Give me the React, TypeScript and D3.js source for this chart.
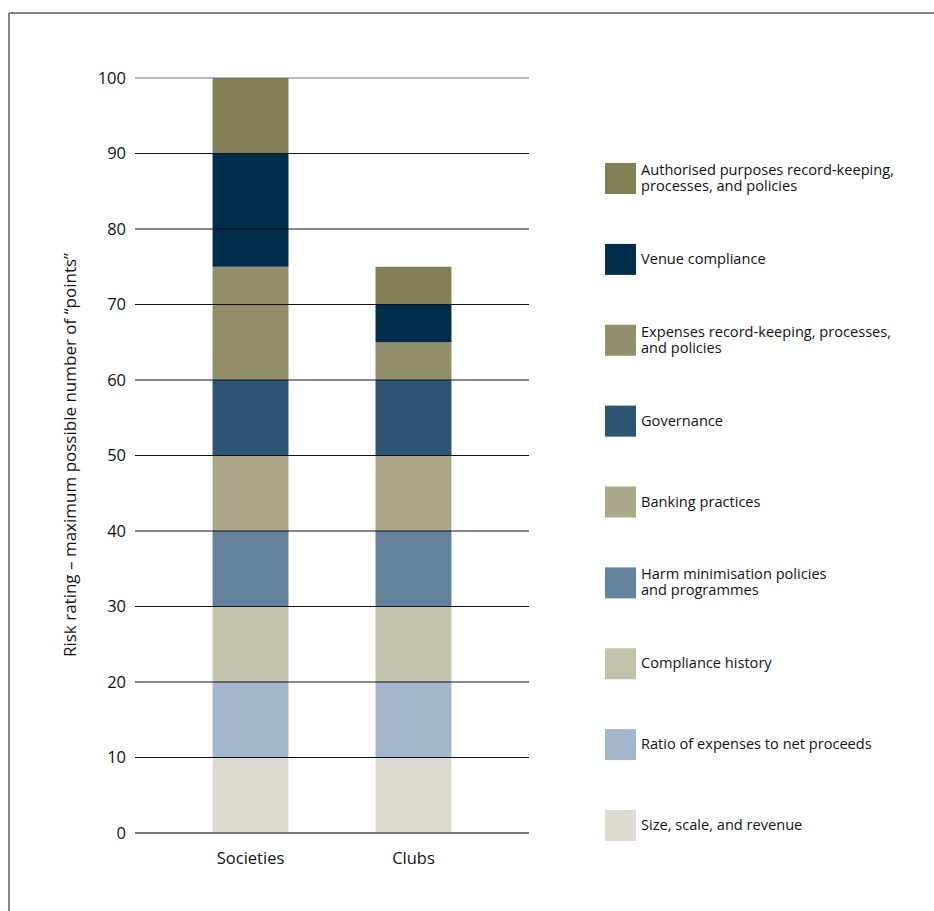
import React from "react";
import * as d3 from "d3";

const categories = ["Societies", "Clubs"];
const seriesNames = [
  "Size, scale, and revenue",
  "Ratio of expenses to net proceeds",
  "Compliance history",
  "Harm minimisation policies|and programmes",
  "Banking practices",
  "Governance",
  "Expenses record-keeping, processes,|and policies",
  "Venue compliance",
  "Authorised purposes record-keeping,|processes, and policies",
];
const societiesValues = [10, 10, 10, 10, 10, 10, 15, 15, 10];
const clubsValues = [10, 10, 10, 10, 10, 10, 5, 5, 5];
const seriesColors = [
  "#dddbd0", "#a4b6cb", "#c2c1aa", "#65829d", "#aba889",
  "#2b5573", "#938f6b", "#002d4a", "#7f7e55",
];
const yTicks = [0, 10, 20, 30, 40, 50, 60, 70, 80, 90, 100];
const yLabel = "Risk rating – maximum possible number of “points”";

export default function App() {
  const W = 934, H = 911;
  const y = d3.scaleLinear().domain([0, 100]).range([833, 78]);
  const x = d3.scaleBand().domain(categories).range([135, 529]).paddingInner(0.534).paddingOuter(0.476);
  const stacked = categories.map((c) => {
    const vals = c === "Societies" ? societiesValues : clubsValues;
    let acc = 0;
    return vals.map((v, i) => {
      const s = { y0: acc, y1: acc + v, i };
      acc += v;
      return s;
    });
  });
  const font = "'Open Sans', sans-serif";
  const legendY = d3.scalePoint().domain(d3.range(seriesNames.length).map(String)).range([825, 178]);
  return (
    <svg width={W} height={H} style={{ position: "absolute", left: 0, top: 0 }} fontFamily={font}>
      <rect width={W} height={H} fill="#fff" />
      <line x1={9} y1={13} x2={W} y2={13} stroke="#5b5b66" strokeWidth={1.5} />
      <line x1={9} y1={13} x2={9} y2={H} stroke="#5b5b66" strokeWidth={1.5} />
      {categories.map((c, ci) =>
        stacked[ci].map((s) =>
          s.y1 > s.y0 ? (
            <rect key={c + s.i} x={x(c)} width={x.bandwidth()} y={y(s.y1)} height={y(s.y0) - y(s.y1)} fill={seriesColors[s.i]} />
          ) : null
        )
      )}
      {yTicks.map((t) => (
        <g key={t}>
          <line x1={135} x2={529} y1={y(t)} y2={y(t)}
            stroke={t === 0 || t === 100 ? "#77777f" : "#111122"}
            strokeWidth={t === 0 ? 2 : 1.2} />
          <text x={126} y={y(t)} dy="0.35em" textAnchor="end" fontSize={16.5} fill="#111118">{t}</text>
        </g>
      ))}
      {categories.map((c) => (
        <text key={c} x={(x(c) as number) + x.bandwidth() / 2} y={864} textAnchor="middle" fontSize={16.5} fill="#111118">{c}</text>
      ))}
      <text transform={`translate(76,455) rotate(-90)`} textAnchor="middle" fontSize={17} fill="#111118">{yLabel}</text>
      {seriesNames.map((n, i) => {
        const cy = legendY(String(i)) as number;
        const lines = n.split("|");
        const top = cy - ((lines.length - 1) / 2) * 16;
        return (
          <g key={n}>
            <rect x={605} y={cy - 15} width={31} height={31} fill={seriesColors[i]} />
            <text x={641} y={top} dy="0.35em" fontSize={14.6} fill="#111118">
              {lines.map((l, li) => (
                <tspan key={li} x={641} dy={li === 0 ? "0.35em" : 16}>{l}</tspan>
              ))}
            </text>
          </g>
        );
      })}
    </svg>
  );
}
